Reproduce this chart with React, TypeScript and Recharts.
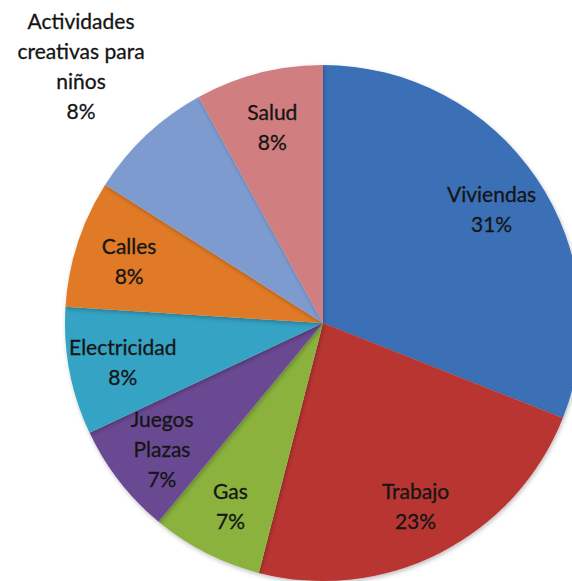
import { PieChart, Pie, Cell } from 'recharts'

// Share of requests by category (clockwise from 12 o'clock).
const CATEGORIES = [
  'Viviendas',
  'Trabajo',
  'Gas',
  'Juegos\nPlazas',
  'Electricidad',
  'Calles',
  'Actividades\ncreativas para\nniños',
  'Salud',
]
const VALUES = [31, 23, 7, 7, 8, 8, 8, 8]
const COLORS = ['#3A6FB7', '#B83431', '#8AB23E', '#6B4A93', '#36A3C4', '#E07A26', '#7E9BD0', '#D17E80']

const data = CATEGORIES.map((name, i) => ({ name, value: VALUES[i] }))

const RAD = Math.PI / 180
const FONT = 'Lato, "Open Sans", sans-serif'

function SliceLabel(props: any) {
  const { cx, cy, midAngle, outerRadius, name, value } = props
  const lines = [...String(name).split('\n'), `${value}%`]
  // long labels don't fit inside their slice, so they go outside the pie
  const r = lines.length > 3 ? outerRadius * 1.37 : outerRadius * 0.79
  const x = cx + r * Math.cos(-midAngle * RAD)
  const y = cy + r * Math.sin(-midAngle * RAD)
  const lh = 30
  const top = y - ((lines.length - 1) * lh) / 2
  return (
    <text x={x} y={top} textAnchor="middle" dominantBaseline="central"
      style={{ fontFamily: FONT, fontSize: 21, fill: '#151515', stroke: '#151515', strokeWidth: 0.3 }}>
      {lines.map((l, i) => (
        <tspan key={i} x={x} y={top + i * lh}>{l}</tspan>
      ))}
    </text>
  )
}

export default function App() {
  return (
    <div style={{ position: 'fixed', left: 0, top: 0, width: 572, height: 581, overflow: 'hidden', background: '#fff' }}>
      <PieChart width={600} height={600} margin={{ top: 0, right: 0, bottom: 0, left: 0 }}>
        <defs>
          <filter id="pieShadow" x="-10%" y="-10%" width="120%" height="120%">
            <feDropShadow dx="1" dy="2" stdDeviation="2" floodColor="#000" floodOpacity="0.25" />
          </filter>
        </defs>
        <Pie
          data={data}
          dataKey="value"
          nameKey="name"
          cx={323}
          cy={323}
          outerRadius={258}
          startAngle={90}
          endAngle={-270}
          stroke="none"
          labelLine={false}
          label={SliceLabel}
          isAnimationActive={false}
          style={{ filter: 'url(#pieShadow)' }}
        >
          {data.map((d, i) => (
            <Cell key={d.name} fill={COLORS[i]} />
          ))}
        </Pie>
      </PieChart>
    </div>
  )
}
